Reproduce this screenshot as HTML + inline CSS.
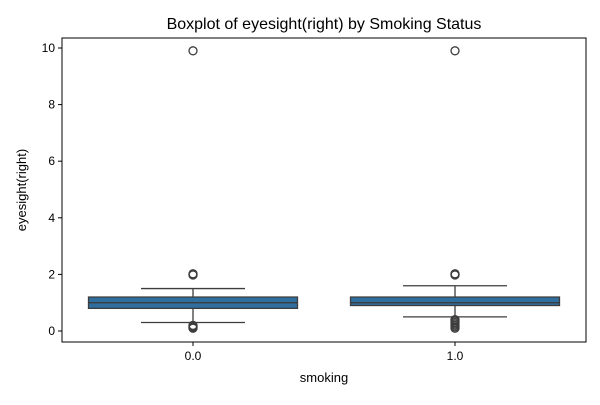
<!DOCTYPE html>
<html><head><meta charset="utf-8"><style>
body{margin:0;background:#fff;font-family:"Liberation Sans",sans-serif}
svg text{font-family:"Liberation Sans",sans-serif;fill:#000}
</style></head><body>
<svg id="c" width="600" height="400"></svg>
<script>
const categories=["0.0","1.0"];
const q1=[0.8,0.9];
const med=[1.0,1.0];
const q3=[1.2,1.2];
const whiskLo=[0.3,0.5];
const whiskHi=[1.5,1.6];
const outliers=[[0.1,0.12,0.15,0.18,0.2,1.98,2.0,2.02,9.9],[0.1,0.15,0.2,0.25,0.3,0.35,0.4,1.98,2.0,2.02,9.9]];
const yTicks=[0,2,4,6,8,10];
const L=62,R=586,T=38,B=342;
const y=v=>331-v*28.3;
const x=i=>L+(R-L)*(i+0.5)/categories.length;
const s=document.getElementById('c');const NS='http://www.w3.org/2000/svg';
function el(t,a,txt){const e=document.createElementNS(NS,t);for(const k in a)e.setAttribute(k,a[k]);if(txt!=null)e.textContent=txt;s.appendChild(e);return e;}
let e=el('text',{x:324,y:29,'text-anchor':'middle','font-size':16},'Boxplot of eyesight(right) by Smoking Status');

yTicks.forEach(v=>{el('line',{x1:L-4,x2:L,y1:y(v),y2:y(v),stroke:'#000'});
 e=el('text',{x:L-7,y:y(v)+4,'text-anchor':'end','font-size':12},v);
 });
categories.forEach((c,i)=>{const cx=x(i),w=209;
 el('line',{x1:cx,x2:cx,y1:B,y2:B+4,stroke:'#000'});
 e=el('text',{x:cx,y:B+18,'text-anchor':'middle','font-size':12},c);
 
 const g='#3d3d3d';
 el('line',{x1:cx,x2:cx,y1:y(whiskHi[i]),y2:y(q3[i]),stroke:g,'stroke-width':1.3});
 el('line',{x1:cx,x2:cx,y1:y(q1[i]),y2:y(whiskLo[i]),stroke:g,'stroke-width':1.3});
 el('line',{x1:cx-52,x2:cx+52,y1:y(whiskHi[i]),y2:y(whiskHi[i]),stroke:g,'stroke-width':1.3});
 el('line',{x1:cx-52,x2:cx+52,y1:y(whiskLo[i]),y2:y(whiskLo[i]),stroke:g,'stroke-width':1.3});
 e=el('rect',{x:cx-w/2,y:y(q3[i]),width:w,height:y(q1[i])-y(q3[i]),fill:'#2f6f9f',stroke:g,'stroke-width':1.3});
 
 el('line',{x1:cx-w/2,x2:cx+w/2,y1:y(med[i]),y2:y(med[i]),stroke:g,'stroke-width':1.3});
 outliers[i].forEach(v=>{e=el('circle',{cx:cx,cy:y(v),r:4,fill:'none',stroke:g,'stroke-width':1.3});
  });
});
el('rect',{x:L,y:T,width:R-L,height:B-T,fill:'none',stroke:'#000','stroke-width':1});
e=el('text',{x:324,y:382,'text-anchor':'middle','font-size':13},'smoking');

e=el('text',{x:0,y:0,'text-anchor':'middle','font-size':13,transform:'translate(26,190) rotate(-90)'},'eyesight(right)');

</script></body></html>
